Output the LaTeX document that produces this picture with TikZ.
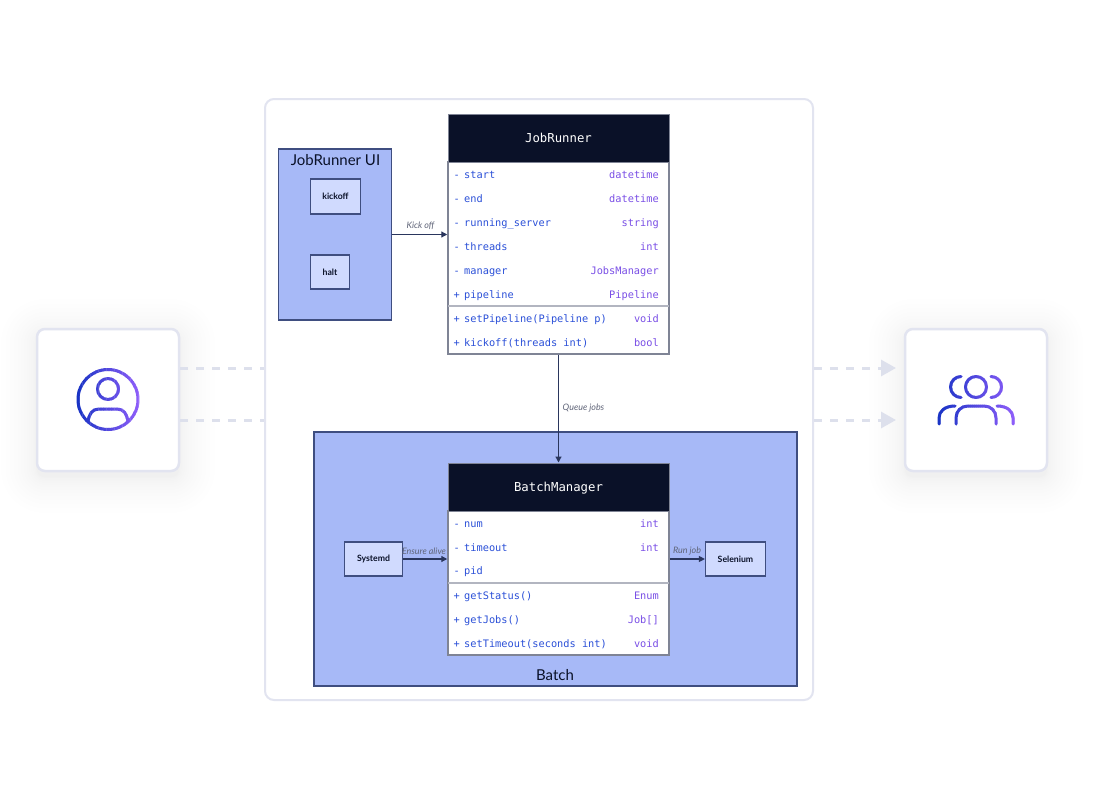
\documentclass[tikz,border=0pt]{standalone}
\usepackage{fontspec}
\setmainfont{Lato}
\setmonofont{DejaVu Sans Mono}
\usetikzlibrary{arrows.meta}
\definecolor{framegray}{HTML}{E2E4F0}
\definecolor{dashgray}{HTML}{DDE0EC}
\definecolor{inkdark}{HTML}{0A1128}
\definecolor{boxedge}{HTML}{3F4E80}
\definecolor{boxfill}{HTML}{A7B9F7}
\definecolor{btnfill}{HTML}{D0DAFE}
\definecolor{classedge}{HTML}{7F8495}
\definecolor{rowblue}{HTML}{2B50D8}
\definecolor{rowpurple}{HTML}{7A4FE6}
\definecolor{labelgray}{HTML}{5F6478}
\definecolor{iconstart}{HTML}{1733C4}
\definecolor{iconend}{HTML}{8F5EFA}
\tikzset{
  card/.style={draw=framegray,line width=2.5pt,fill=white,rounded corners=8pt,minimum width=142pt,minimum height=142pt,inner sep=0pt},
  groupbox/.style={draw=boxedge,line width=1.2pt,fill=boxfill,inner sep=0pt},
  btn/.style={draw=boxedge,line width=1.2pt,fill=btnfill,inner sep=0pt,font=\bfseries\fontsize{8.7}{10}\selectfont,text=inkdark},
  classhead/.style={draw=classedge,line width=1pt,fill=inkdark,text=white,inner sep=0pt,text height=12pt,text depth=3pt,minimum width=221pt,minimum height=48pt,font=\ttfamily\fontsize{12.3}{14}\selectfont},
  classbody/.style={draw=classedge,line width=1.5pt,fill=white,inner sep=0pt,minimum width=221pt},
  rowtext/.style={inner sep=0pt,text height=10pt,text depth=2pt,font=\ttfamily\fontsize{10.3}{12}\selectfont},
  rowname/.style={rowtext,anchor=west,text=rowblue},
  rowtype/.style={rowtext,anchor=east,text=rowpurple},
  grouptitle/.style={inner sep=0pt,text=inkdark,font=\fontsize{15}{17}\selectfont},
  linklabel/.style={inner sep=0pt,text=labelgray,font=\itshape\fontsize{8.9}{10}\selectfont},
  link/.style={draw=boxedge!60!inkdark,line width=1.2pt,-{Triangle[length=6pt,width=6pt]}},
  dashlink/.style={draw=dashgray,line width=3pt,dash pattern=on 8pt off 8pt},
  icon/.style={line width=3pt,line cap=round,line join=round}
}
% strips of colour give the icons their gradient
\newcommand{\gradienticon}[3]{%
  \foreach \k in {0,...,39} {
    \pgfmathsetmacro{\pct}{100*\k/39}
    \pgfmathsetmacro{\xa}{#1+(#2-#1)*\k/40}
    \pgfmathsetmacro{\xb}{#1+(#2-#1)*(\k+1)/40+0.3}
    \begin{scope}
      \clip (\xa,360) rectangle (\xb,440);
      \begin{scope}[icon,draw=iconend!\pct!iconstart]
        #3
      \end{scope}
    \end{scope}
  }%
}
\newcommand{\softshadow}[2]{%
  \foreach \g in {1,...,15} {
    \pgfmathsetmacro{\grow}{\g*\g*0.16}
    \fill[inkdark,opacity=0.0035,rounded corners={(8+\grow)*1pt}]
      ({#1-71-\grow},{#2-71-\grow+6}) rectangle ({#1+71+\grow},{#2+71+\grow+6});
  }%
}
\begin{document}
\begin{tikzpicture}[x=1pt,y=-1pt]
  \useasboundingbox (0,0) rectangle (1095,800);
  \fill[white] (0,0) rectangle (1095,800);

  \softshadow{108}{400}
  \softshadow{976}{400}

  \node[draw=framegray,line width=2pt,fill=white,rounded corners=9pt,inner sep=0pt,minimum width=548pt,minimum height=601pt] (frame) at (539,399.5) {};
  \node[card] (usercard) at (108,400) {};
  \node[card] (teamcard) at (976,400) {};

  \coordinate (userout1) at (180,368);
  \coordinate (userout2) at (180,420);
  \coordinate (teamin1) at (896,368);
  \coordinate (teamin2) at (896,420);
  \foreach \a in {1,2} {
    \draw[dashlink] (userout\a) -- (frame.west |- userout\a);
    \draw[dashlink,-{Triangle[length=15pt,width=16pt,fill=dashgray]}] (frame.east |- teamin\a) -- (teamin\a);
  }

  % job runner ui
  \node[groupbox,minimum width=113pt,minimum height=171pt] (jobui) at (335,234.5) {};
  \node[grouptitle] (jobuititle) at (335.5,160) {JobRunner UI};
  \node[btn,minimum width=50pt,minimum height=35pt] (kickoff) at (335.5,196.5) {kickoff};
  \node[btn,minimum width=39pt,minimum height=34pt] (halt) at (330,272) {halt};

  % job runner class
  \node[classbody,minimum height=192pt] (jobrunnerbody) at (558.5,258) {};
  \node[classhead] (jobrunner) at (558.5,138) {JobRunner};
  \draw[classedge!60,line width=1.5pt] (448,306) -- (669,306);
  \foreach \y/\s/\n in {174/-/start,198/-/end,222/-/running\_server,246/-/threads,270/-/manager,294/+/pipeline,318/+/setPipeline(Pipeline p),342/+/kickoff(threads int)} {
    \node[rowname] (jrsign\y) at (453.5,\y) {\s};
    \node[rowname] (jrname\y) at (464,\y) {\n};
  }
  \foreach \y/\t in {174/datetime,198/datetime,222/string,246/int,270/JobsManager,294/Pipeline,318/void,342/bool} {
    \node[rowtype] (jrtype\y) at (659,\y) {\t};
  }

  % batch group
  \node[groupbox,minimum width=483pt,minimum height=254pt] (batch) at (555.5,559) {};
  \node[grouptitle] (batchtitle) at (555,675) {Batch};
  \node[btn,minimum width=58pt,minimum height=34pt] (systemd) at (373.5,559) {Systemd};
  \node[btn,minimum width=60pt,minimum height=34pt] (selenium) at (735.5,559) {Selenium};

  \node[classbody,minimum height=144pt] (batchbody) at (558.5,583) {};
  \node[classhead] (batchmanager) at (558.5,487) {BatchManager};
  \draw[classedge!60,line width=2pt] (448,582.5) -- (669,582.5);
  \foreach \y/\s/\n in {523/-/num,547/-/timeout,570.5/-/pid,595/+/getStatus(),619/+/getJobs(),643/+/setTimeout(seconds int)} {
    \node[rowname] (bmsign\y) at (453.5,\y) {\s};
    \node[rowname] (bmname\y) at (464,\y) {\n};
  }
  \foreach \y/\t in {523/int,547/int,595/Enum,619/{Job[]},643/void} {
    \node[rowtype] (bmtype\y) at (659,\y) {\t};
  }

  \draw[link] (jobui.east) -- (jobrunnerbody.west |- jobui.east);
  \draw[link] (jobrunnerbody.south) -- (batchmanager.north);
  \draw[link] (systemd.east) -- (batchbody.west |- systemd.east);
  \draw[link] (batchbody.east |- selenium.west) -- (selenium.west);
  \node[linklabel] (kicklabel) at (420.5,226) {Kick off};
  \node[linklabel] (queuelabel) at (583.5,408.5) {Queue jobs};
  \node[linklabel] (ensurelabel) at (424,551) {Ensure alive};
  \node[linklabel] (runlabel) at (687,551) {Run job};

  \gradienticon{76}{140}{
    \draw (108,399.5) circle (30);
    \draw (108,389) circle (10.5);
    \draw (88,422) .. controls (89,414) and (92,409) .. (99,409) -- (117,409) .. controls (124,409) and (127,414) .. (128,422);
  }
  \gradienticon{936}{1016}{
    \draw (976,387) circle (10.5);
    \draw (961,376.5) arc (-90:-270:10.5);
    \draw (991,376.5) arc (-90:90:10.5);
    \draw (956,424) -- (956,418) .. controls (956,411) and (961,406) .. (968,406) -- (984,406) .. controls (991,406) and (996,411) .. (996,418) -- (996,424);
    \draw (939,424) -- (939,418) .. controls (939,411) and (945,406) .. (955,406);
    \draw (1013,424) -- (1013,418) .. controls (1013,411) and (1007,406) .. (997,406);
  }
\end{tikzpicture}
\end{document}
